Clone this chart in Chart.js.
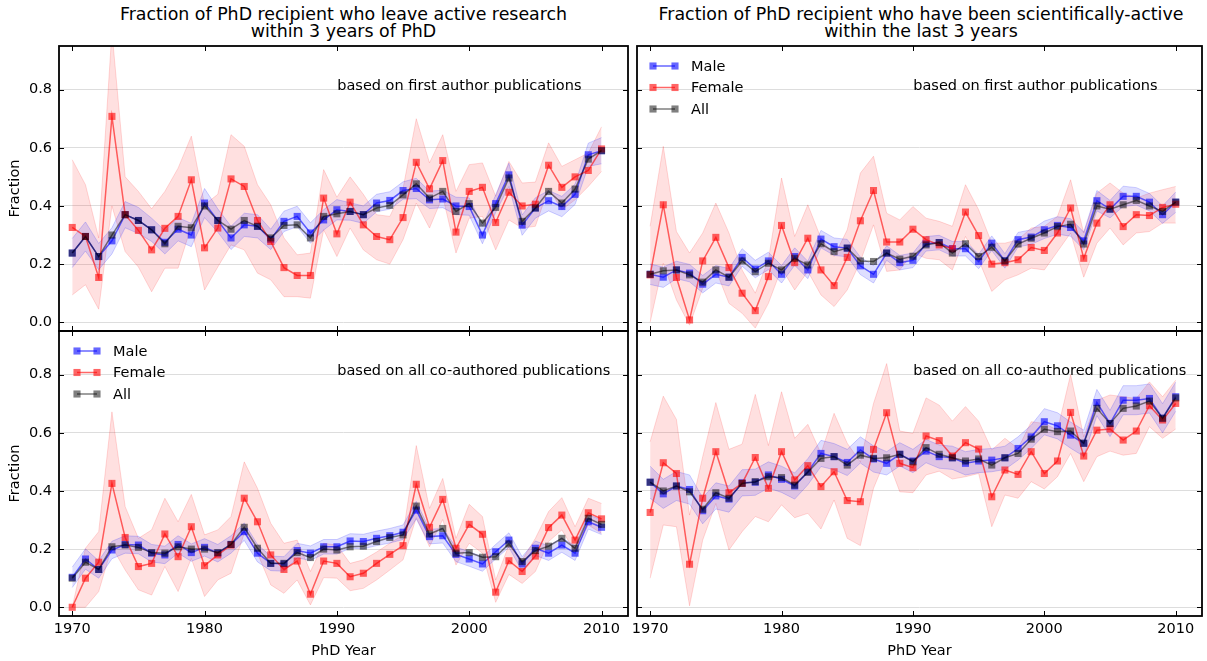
<!DOCTYPE html>
<html>
<head>
<meta charset="utf-8">
<script src="https://cdn.jsdelivr.net/npm/chart.js@4/dist/chart.umd.min.js"></script>
<style>
  html, body { margin: 0; padding: 0; background: #fff; }
  body { width: 1207px; height: 661px; position: relative; overflow: hidden; font-family: 'DejaVu Sans', sans-serif; }
  canvas { position: absolute; left: 0; top: 0; }
  .title { position: absolute; text-align: center; font-size: 17.4px; line-height: 16.8px; color: #000; white-space: nowrap; }
</style>
</head>
<body>
<div class="title" style="left:59px;width:569px;top:6px">Fraction of PhD recipient who leave active research<br>within 3 years of PhD</div>
<div class="title" style="left:637px;width:568px;top:6px">Fraction of PhD recipient who have been scientifically-active<br>within the last 3 years</div>
<canvas id="cTL" width="1207" height="661"></canvas>
<canvas id="cBL" width="1207" height="661"></canvas>
<canvas id="cTR" width="1207" height="661"></canvas>
<canvas id="cBR" width="1207" height="661"></canvas>
<script>
// ---------------- data ----------------
const years = [1970,1971,1972,1973,1974,1975,1976,1977,1978,1979,1980,1981,1982,1983,1984,1985,1986,1987,1988,1989,1990,
               1991,1992,1993,1994,1995,1996,1997,1998,1999,2000,2001,2002,2003,2004,2005,2006,2007,2008,2009,2010];
const xTicks = [1970, 1980, 1990, 2000, 2010];
const yTicks = [0.0, 0.2, 0.4, 0.6, 0.8];
const seriesNames = ['Male', 'Female', 'All'];
const noteFirst = 'based on first author publications';
const noteAll = 'based on all co-authored publications';
const xTitle = 'PhD Year';
const yTitle = 'Fraction';

// top-left: leave research, first author
const tlMale   = [0.238,0.295,0.226,0.28,0.37,0.35,0.318,0.275,0.32,0.30,0.41,0.35,0.29,0.335,0.33,0.285,0.347,0.364,0.307,0.352,0.387,
                  0.381,0.37,0.41,0.419,0.453,0.46,0.421,0.424,0.40,0.398,0.30,0.408,0.507,0.334,0.393,0.418,0.398,0.44,0.576,0.59];
const tlAll    = [0.238,0.295,0.226,0.30,0.37,0.35,0.318,0.27,0.33,0.325,0.40,0.35,0.32,0.35,0.33,0.29,0.333,0.335,0.29,0.364,0.373,
                  0.381,0.37,0.393,0.402,0.438,0.476,0.427,0.45,0.381,0.408,0.341,0.395,0.496,0.347,0.393,0.45,0.41,0.458,0.561,0.59];
const tlFemale = [0.326,0.295,0.154,0.708,0.37,0.316,0.249,0.323,0.364,0.49,0.256,0.324,0.493,0.467,0.35,0.278,0.188,0.161,0.161,0.427,0.304,
                  0.413,0.335,0.295,0.284,0.36,0.55,0.459,0.556,0.31,0.45,0.464,0.343,0.447,0.40,0.406,0.54,0.464,0.50,0.522,0.596];
const tlFemHi  = [0.559,0.473,0.29,1.0,0.50,0.45,0.39,0.45,0.53,0.64,0.404,0.44,0.645,0.605,0.473,0.404,0.29,0.232,0.238,0.525,0.43,
                  0.50,0.44,0.37,0.364,0.46,0.70,0.548,0.645,0.45,0.542,0.548,0.433,0.553,0.479,0.482,0.617,0.536,0.559,0.582,0.672];
const tlFemLo  = [0.094,0.129,0.045,0.40,0.243,0.19,0.105,0.186,0.186,0.33,0.111,0.19,0.266,0.249,0.169,0.146,0.088,0.088,0.083,0.318,0.226,
                  0.324,0.249,0.215,0.20,0.284,0.41,0.324,0.433,0.238,0.358,0.364,0.249,0.352,0.324,0.33,0.461,0.387,0.421,0.467,0.519];
const tlMaleErr= [0.05,0.05,0.045,0.045,0.045,0.045,0.04,0.04,0.04,0.04,0.05,0.04,0.04,0.04,0.04,0.035,0.035,0.035,0.035,0.035,0.035,
                  0.03,0.03,0.03,0.03,0.03,0.035,0.03,0.03,0.03,0.03,0.03,0.03,0.04,0.035,0.035,0.035,0.035,0.035,0.04,0.045];

// bottom-left: leave research, all co-authored
const blMale   = [0.103,0.166,0.13,0.197,0.216,0.214,0.186,0.18,0.216,0.188,0.206,0.186,0.216,0.26,0.186,0.151,0.149,0.195,0.186,0.208,0.208,
                  0.228,0.226,0.237,0.246,0.258,0.334,0.243,0.246,0.182,0.166,0.149,0.191,0.231,0.149,0.203,0.186,0.214,0.186,0.294,0.275];
const blAll    = [0.10,0.155,0.13,0.208,0.214,0.206,0.188,0.186,0.208,0.20,0.20,0.188,0.216,0.275,0.203,0.151,0.151,0.188,0.171,0.20,0.197,
                  0.208,0.21,0.226,0.24,0.249,0.348,0.252,0.271,0.186,0.188,0.172,0.174,0.218,0.157,0.195,0.21,0.237,0.203,0.306,0.285];
const blFemale = [0.0,0.10,0.155,0.426,0.24,0.14,0.151,0.252,0.174,0.277,0.143,0.18,0.214,0.375,0.294,0.18,0.13,0.159,0.045,0.159,0.151,
                  0.105,0.117,0.151,0.182,0.212,0.423,0.275,0.371,0.203,0.285,0.251,0.052,0.16,0.123,0.176,0.274,0.317,0.231,0.325,0.304];
const blFemHi  = [0.0,0.203,0.26,0.672,0.346,0.237,0.266,0.375,0.294,0.388,0.249,0.266,0.312,0.50,0.409,0.289,0.22,0.231,0.123,0.22,0.214,
                  0.151,0.163,0.19,0.22,0.249,0.556,0.34,0.443,0.237,0.354,0.312,0.094,0.214,0.163,0.237,0.329,0.377,0.277,0.375,0.357];
const blFemLo  = [0.0,0.0,0.054,0.208,0.128,0.06,0.042,0.14,0.054,0.168,0.037,0.094,0.117,0.254,0.186,0.077,0.048,0.094,0.008,0.102,0.10,
                  0.057,0.065,0.094,0.128,0.163,0.308,0.208,0.302,0.145,0.22,0.186,0.017,0.113,0.082,0.123,0.226,0.266,0.191,0.283,0.254];
const blMaleErr= [0.035,0.035,0.03,0.03,0.03,0.03,0.03,0.03,0.03,0.03,0.03,0.03,0.03,0.03,0.03,0.025,0.025,0.025,0.025,0.025,0.025,
                  0.025,0.025,0.025,0.025,0.025,0.03,0.025,0.025,0.025,0.025,0.025,0.025,0.025,0.025,0.025,0.025,0.025,0.025,0.025,0.025];

// top-right: scientifically active, first author
const trMale   = [0.165,0.155,0.18,0.169,0.131,0.165,0.155,0.223,0.183,0.211,0.165,0.226,0.18,0.286,0.26,0.255,0.194,0.165,0.238,0.205,0.213,
                  0.27,0.274,0.253,0.253,0.209,0.272,0.211,0.284,0.293,0.318,0.333,0.326,0.28,0.418,0.389,0.433,0.433,0.413,0.37,0.413];
const trAll    = [0.165,0.177,0.18,0.163,0.138,0.18,0.155,0.211,0.174,0.203,0.18,0.22,0.197,0.27,0.243,0.255,0.211,0.209,0.238,0.217,0.227,
                  0.266,0.274,0.238,0.27,0.226,0.258,0.211,0.269,0.289,0.307,0.329,0.337,0.269,0.40,0.389,0.404,0.419,0.40,0.381,0.413];
const trFemale = [0.163,0.404,0.154,0.008,0.211,0.292,0.188,0.10,0.04,0.157,0.333,0.205,0.289,0.18,0.126,0.223,0.349,0.453,0.276,0.276,0.32,
                  0.284,0.266,0.253,0.379,0.298,0.20,0.205,0.215,0.257,0.247,0.307,0.393,0.22,0.341,0.404,0.329,0.37,0.367,0.395,0.406];
const trFemHi  = [0.33,0.605,0.312,0.238,0.307,0.41,0.307,0.18,0.10,0.215,0.496,0.295,0.404,0.289,0.226,0.318,0.513,0.571,0.375,0.352,0.398,
                  0.358,0.347,0.33,0.473,0.387,0.272,0.272,0.284,0.324,0.33,0.364,0.49,0.307,0.444,0.479,0.444,0.427,0.444,0.456,0.467];
const trFemLo  = [0.0,0.203,0.077,-0.01,0.117,0.18,0.065,0.031,-0.02,0.065,0.186,0.111,0.175,0.094,0.054,0.111,0.209,0.335,0.175,0.18,0.238,
                  0.22,0.215,0.18,0.295,0.215,0.106,0.146,0.163,0.186,0.18,0.243,0.307,0.155,0.272,0.324,0.266,0.307,0.312,0.341,0.341];
const trMaleErr= [0.035,0.035,0.03,0.03,0.03,0.03,0.03,0.03,0.03,0.03,0.03,0.03,0.03,0.03,0.03,0.03,0.03,0.03,0.025,0.025,0.025,
                  0.025,0.025,0.025,0.025,0.025,0.025,0.025,0.025,0.025,0.03,0.03,0.03,0.03,0.035,0.03,0.035,0.03,0.03,0.03,0.035];

// bottom-right: scientifically active, all co-authored
const brMale   = [0.43,0.39,0.417,0.405,0.332,0.383,0.372,0.428,0.43,0.455,0.44,0.417,0.466,0.529,0.518,0.498,0.541,0.51,0.495,0.526,0.503,
                  0.537,0.518,0.514,0.495,0.503,0.506,0.514,0.546,0.586,0.638,0.624,0.592,0.564,0.704,0.632,0.712,0.712,0.718,0.65,0.724];
const brAll    = [0.43,0.40,0.417,0.397,0.337,0.394,0.375,0.426,0.432,0.449,0.446,0.42,0.464,0.512,0.518,0.489,0.523,0.512,0.514,0.526,0.50,
                  0.549,0.526,0.514,0.503,0.51,0.489,0.514,0.529,0.578,0.612,0.604,0.606,0.564,0.684,0.632,0.684,0.692,0.709,0.65,0.72];
const brFemale = [0.326,0.497,0.46,0.148,0.375,0.535,0.394,0.426,0.515,0.409,0.535,0.438,0.487,0.415,0.466,0.367,0.363,0.543,0.669,0.495,0.48,
                  0.589,0.573,0.52,0.566,0.544,0.38,0.472,0.457,0.535,0.46,0.503,0.67,0.52,0.609,0.613,0.575,0.606,0.693,0.644,0.701];
const brFemHi  = [0.569,0.726,0.646,0.317,0.518,0.704,0.543,0.561,0.732,0.556,0.741,0.581,0.629,0.529,0.667,0.564,0.50,0.701,0.838,0.606,0.598,
                  0.72,0.695,0.64,0.69,0.64,0.541,0.581,0.546,0.638,0.632,0.609,0.80,0.586,0.712,0.73,0.724,0.718,0.775,0.724,0.781];
const brFemLo  = [0.10,0.283,0.277,0.005,0.231,0.357,0.197,0.26,0.312,0.294,0.352,0.308,0.323,0.269,0.369,0.237,0.212,0.409,0.518,0.397,0.394,
                  0.455,0.468,0.441,0.449,0.46,0.277,0.386,0.375,0.432,0.407,0.449,0.529,0.432,0.518,0.537,0.523,0.529,0.621,0.581,0.613];
const brMaleErr= [0.055,0.05,0.05,0.05,0.045,0.045,0.045,0.045,0.045,0.045,0.045,0.045,0.045,0.045,0.045,0.045,0.045,0.045,0.04,0.04,0.04,
                  0.04,0.04,0.04,0.04,0.04,0.04,0.04,0.04,0.04,0.045,0.045,0.045,0.045,0.045,0.045,0.05,0.05,0.05,0.05,0.05];

// ---------------- styling ----------------
const FONT = 'DejaVu Sans';
const FS = 14.5;
Chart.defaults.font.family = FONT;
Chart.defaults.font.size = FS;
Chart.defaults.color = '#000';

const COL = {
  male:   'rgba(0,0,255,0.6)',
  female: 'rgba(255,0,0,0.6)',
  all:    'rgba(0,0,0,0.5)',
  maleFill: 'rgba(0,0,255,0.13)', maleEdge: 'rgba(0,0,255,0.18)',
  femFill:  'rgba(255,0,0,0.12)', femEdge:  'rgba(255,0,0,0.15)'
};
const W = 1207, H = 661;

function pts(vals) { return years.map((x, i) => ({ x: x, y: vals[i] })); }

function lineDs(label, vals, color, order) {
  return { label, data: pts(vals), borderColor: color, backgroundColor: color, borderWidth: 1.5,
           pointStyle: 'rect', pointRadius: 5, pointBorderWidth: 0, pointBackgroundColor: color,
           pointHoverRadius: 5, fill: false, tension: 0, order };
}
function bandDs(vals, edge, fillTarget, fillColor, order) {
  return { label: '', data: pts(vals), borderColor: edge, borderWidth: 1, pointRadius: 0, pointHoverRadius: 0,
           fill: fillTarget, backgroundColor: fillColor, tension: 0, order };
}

const framePlugin = {
  id: 'frame',
  afterDraw(chart) {
    const p = chart.options.plugins.frame;
    const ctx = chart.ctx, a = chart.chartArea, xs = chart.scales.x, ys = chart.scales.y;
    ctx.save();
    // inward ticks on all four sides
    ctx.strokeStyle = '#000';
    ctx.lineWidth = 1;
    ctx.beginPath();
    xTicks.forEach(v => {
      const px = Math.round(xs.getPixelForValue(v)) + 0.5;
      ctx.moveTo(px, a.bottom); ctx.lineTo(px, a.bottom - 5);
      ctx.moveTo(px, a.top); ctx.lineTo(px, a.top + 5);
    });
    yTicks.forEach(v => {
      const py = Math.round(ys.getPixelForValue(v)) + 0.5;
      ctx.moveTo(a.left, py); ctx.lineTo(a.left + 5, py);
      ctx.moveTo(a.right, py); ctx.lineTo(a.right - 5, py);
    });
    ctx.stroke();
    // frame
    ctx.lineWidth = 1.8;
    ctx.strokeRect(a.left, a.top, a.right - a.left, a.bottom - a.top);
    // annotation
    const w = a.right - a.left, h = a.bottom - a.top;
    ctx.fillStyle = '#000';
    ctx.font = FS + 'px "' + FONT + '"';
    ctx.textAlign = 'left';
    ctx.textBaseline = 'alphabetic';
    ctx.fillText(p.note, a.left + 0.489 * w, a.top + 0.154 * h);
    // legend
    if (p.legend) {
      const cols = [COL.male, COL.female, COL.all];
      const dy = [20, 41.5, 63];
      const s = 7.1;
      seriesNames.forEach((name, i) => {
        const y = a.top + dy[i];
        const x1 = a.left + p.legendX1, x2 = a.left + 38;
        ctx.strokeStyle = cols[i]; ctx.lineWidth = 1.5;
        ctx.beginPath(); ctx.moveTo(x1, y); ctx.lineTo(x2, y); ctx.stroke();
        ctx.fillStyle = cols[i];
        ctx.fillRect(x1 - s / 2, y - s / 2, s, s);
        ctx.fillRect(x2 - s / 2, y - s / 2, s, s);
        ctx.fillStyle = '#000';
        ctx.textBaseline = 'middle';
        ctx.fillText(name, a.left + 54, y + 1);
      });
    }
    ctx.restore();
  }
};

const panels = [
  { id: 'cTL', area: { l: 59,  t: 46,  r: 628,  b: 331 }, male: tlMale, all: tlAll, female: tlFemale, femLo: tlFemLo, femHi: tlFemHi, maleErr: tlMaleErr, note: noteFirst, legend: false, xLab: false, yLab: true,  legendX1: 18 },
  { id: 'cBL', area: { l: 59,  t: 331, r: 628,  b: 616 }, male: blMale, all: blAll, female: blFemale, femLo: blFemLo, femHi: blFemHi, maleErr: blMaleErr, note: noteAll,   legend: true,  xLab: true,  yLab: true,  legendX1: 18 },
  { id: 'cTR', area: { l: 637, t: 46,  r: 1205, b: 331 }, male: trMale, all: trAll, female: trFemale, femLo: trFemLo, femHi: trFemHi, maleErr: trMaleErr, note: noteFirst, legend: true,  xLab: false, yLab: false, legendX1: 16 },
  { id: 'cBR', area: { l: 637, t: 331, r: 1205, b: 616 }, male: brMale, all: brAll, female: brFemale, femLo: brFemLo, femHi: brFemHi, maleErr: brMaleErr, note: noteAll,   legend: false, xLab: true,  yLab: false, legendX1: 16 }
];

panels.forEach(p => {
  const yW = p.yLab ? 59 : 0;
  const xH = p.xLab ? 45 : 0;
  const maleLo = p.male.map((v, i) => v - p.maleErr[i]);
  const maleHi = p.male.map((v, i) => v + p.maleErr[i]);
  const datasets = [
    lineDs('All', p.all, COL.all, 0),                          // 0
    lineDs('Female', p.female, COL.female, 1),                 // 1
    lineDs('Male', p.male, COL.male, 2),                       // 2
    bandDs(maleLo, COL.maleEdge, false, COL.maleFill, 3),      // 3
    bandDs(maleHi, COL.maleEdge, 3, COL.maleFill, 3),          // 4
    bandDs(p.femLo, COL.femEdge, false, COL.femFill, 4),       // 5
    bandDs(p.femHi, COL.femEdge, 5, COL.femFill, 4)            // 6
  ];
  new Chart(document.getElementById(p.id), {
    type: 'line',
    data: { datasets },
    options: {
      responsive: false, animation: false, devicePixelRatio: 1,
      events: [],
      layout: { padding: { left: p.area.l - yW, top: p.area.t, right: W - p.area.r, bottom: H - p.area.b - xH } },
      plugins: {
        legend: { display: false }, tooltip: { enabled: false }, title: { display: false },
        frame: { note: p.note, legend: p.legend, legendX1: p.legendX1 }
      },
      scales: {
        x: {
          type: 'linear', min: 1969, max: 2012, display: true,
          afterBuildTicks: s => { s.ticks = xTicks.map(v => ({ value: v })); },
          afterFit: s => { s.height = xH; },
          grid: { display: false, drawTicks: false }, border: { display: false },
          ticks: { display: p.xLab, autoSkip: false, maxRotation: 0, padding: 5, font: { size: FS }, callback: v => String(v) },
          title: { display: p.xLab, text: xTitle, font: { size: FS }, padding: { top: 0, bottom: 1 } }
        },
        y: {
          type: 'linear', min: -0.03, max: 0.95, display: true,
          afterBuildTicks: s => { s.ticks = yTicks.map(v => ({ value: v })); },
          afterFit: s => { s.width = yW; },
          grid: { display: true, color: '#dddddd', lineWidth: 1, drawTicks: false }, border: { display: false },
          ticks: { display: p.yLab, padding: 7, font: { size: FS }, callback: v => Number(v).toFixed(1) },
          title: { display: p.yLab, text: yTitle, font: { size: FS }, padding: { top: 7, bottom: 0 } }
        }
      }
    },
    plugins: [framePlugin]
  });
});
</script>
</body>
</html>
